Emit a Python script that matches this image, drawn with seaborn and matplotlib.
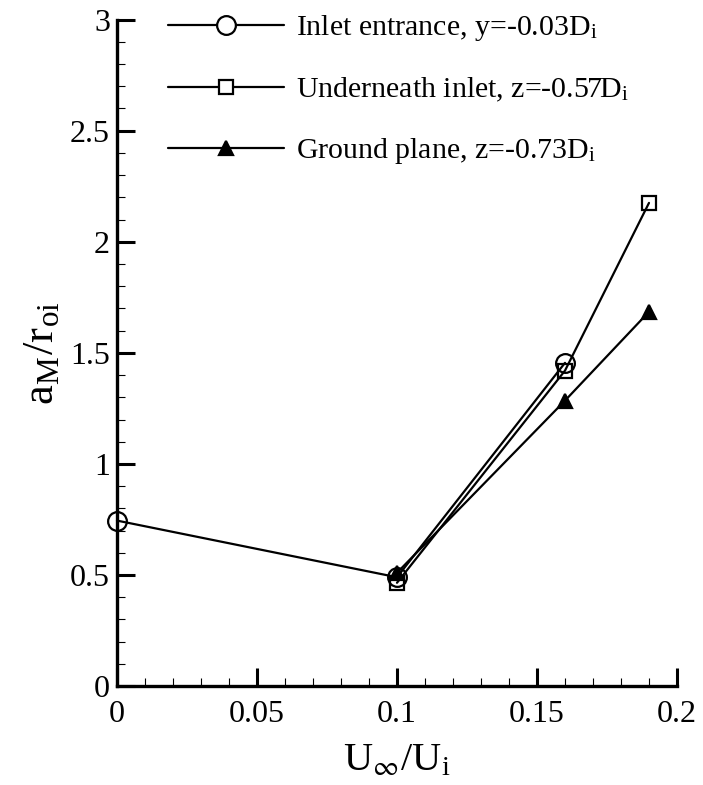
import pandas as pd
import seaborn as sns
import matplotlib.pyplot as plt
from matplotlib.ticker import MultipleLocator
from matplotlib.lines import Line2D

# Data
inlet_x = [0.0, 0.1, 0.16]
inlet_y = [0.745, 0.49, 1.455]
under_x = [0.1, 0.16, 0.19]
under_y = [0.465, 1.42, 2.175]
ground_x = [0.1, 0.16, 0.19]
ground_y = [0.51, 1.285, 1.685]

labels = ['Inlet entrance, y=-0.03D$_\\mathregular{i}$',
          'Underneath inlet, z=-0.57D$_\\mathregular{i}$',
          'Ground plane, z=-0.73D$_\\mathregular{i}$']
markers = ['o', 's', '^']
marker_sizes = [13.5, 10, 10]
marker_faces = ['none', 'none', 'black']

sns.set_style('ticks')
plt.rcParams['font.family'] = ['Liberation Serif', 'DejaVu Serif']
plt.rcParams['mathtext.fontset'] = 'stix'
# pure black axes and text, like the Tecplot original
for key in ['axes.edgecolor', 'xtick.color', 'ytick.color', 'text.color',
            'axes.labelcolor']:
    plt.rcParams[key] = 'black'

df = pd.concat([
    pd.DataFrame({'x': inlet_x, 'y': inlet_y, 'series': labels[0]}),
    pd.DataFrame({'x': under_x, 'y': under_y, 'series': labels[1]}),
    pd.DataFrame({'x': ground_x, 'y': ground_y, 'series': labels[2]}),
])

fig = plt.figure(figsize=(7.03, 7.85), dpi=100)
ax = fig.add_axes([0.1664, 0.126, 0.7966, 0.849])

handles = []
for i, name in enumerate(labels):
    sub = df[df['series'] == name]
    sns.lineplot(data=sub, x='x', y='y', ax=ax, color='black', linewidth=1.6,
                 marker=markers[i], markersize=marker_sizes[i],
                 markerfacecolor=marker_faces[i], markeredgecolor='black',
                 markeredgewidth=1.6, sort=False, estimator=None,
                 clip_on=False, zorder=3)
    handles.append(Line2D([], [], color='black', linewidth=1.6,
                          marker=markers[i], markersize=marker_sizes[i],
                          markerfacecolor='white' if marker_faces[i] == 'none' else 'black',
                          markeredgecolor='black', markeredgewidth=1.6))

ax.set_xlim(0, 0.2)
ax.set_ylim(0, 3)
ax.xaxis.set_major_locator(MultipleLocator(0.05))
ax.xaxis.set_minor_locator(MultipleLocator(0.01))
ax.yaxis.set_major_locator(MultipleLocator(0.5))
ax.yaxis.set_minor_locator(MultipleLocator(0.1))
ax.set_xticks([0, 0.05, 0.1, 0.15, 0.2], ['0', '0.05', '0.1', '0.15', '0.2'])
ax.set_yticks([0, 0.5, 1, 1.5, 2, 2.5, 3], ['0', '0.5', '1', '1.5', '2', '2.5', '3'])

sns.despine(ax=ax)
for side in ['left', 'bottom']:
    ax.spines[side].set_linewidth(2.4)
ax.tick_params(which='major', direction='in', length=13, width=2.2,
               labelsize=23, pad=5)
ax.tick_params(axis='x', which='major', pad=10)
ax.tick_params(which='minor', direction='in', length=6, width=0.8)

ax.set_xlabel('U$_\\infty$/U$_\\mathregular{i}$', fontsize=29, labelpad=10)
ax.set_ylabel('a$_\\mathregular{M}$/r$_\\mathregular{oi}$', fontsize=32, labelpad=6)

ax.legend(handles, labels, loc='upper left', bbox_to_anchor=(0.239, 0.983),
          bbox_transform=fig.transFigure, frameon=False, fontsize=21.5,
          handlelength=3.9, handletextpad=0.4, labelspacing=1.08,
          borderpad=0, borderaxespad=0)

fig.savefig('out.png', dpi=100)
